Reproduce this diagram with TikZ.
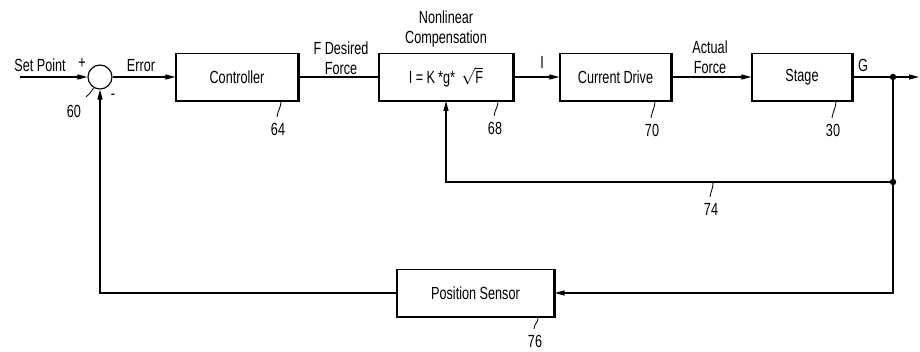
\documentclass[tikz,border=0pt]{standalone}
\usepackage{fontspec}
\setmainfont{Liberation Sans}[FakeStretch=0.72]
\usetikzlibrary{arrows.meta, positioning, calc}
\tikzset{
  fbblock/.style={rectangle, draw, line width=0.8pt,
                  minimum height=11.7mm, inner sep=2pt, align=center},
  fbheavy/.style={line width=1.8pt},
  fbline/.style={line width=0.8pt},
  fbarrow/.style={-{Triangle[length=2.5mm,width=1.25mm]}, line width=0.8pt},
  fbsum/.style={circle, draw, line width=0.8pt, minimum size=6mm, inner sep=0pt},
  fbdot/.style={circle, fill, inner sep=0pt, minimum size=1.6mm},
  fbtext/.style={align=center, inner sep=1pt},
  fbleader/.style={line width=0.6pt},
}

\begin{document}
\begin{tikzpicture}[x=0.25mm, y=-0.25mm, font=\fontsize{12.5}{14.2}\selectfont]
    \useasboundingbox (0,0) rectangle (920,352);
    % Blocos
    \node[fbsum] (sum) at (100,77) {};
    \node[fbblock, minimum width=30.5mm] (ctrl) at (237,77) {Controller};
    \node[fbblock, minimum width=33.5mm] (comp) at (446,77) {I = K\,*g* \,$\sqrt{\hbox{F}}$};
    \node[fbblock, minimum width=27.75mm] (drive) at (615.5,77) {Current Drive};
    \node[fbblock, minimum width=25mm] (stage) at (802,77) {Stage};
    \node[fbblock, minimum width=39.25mm] (sensor) at (475.5,293) {Position Sensor};
    \foreach \b in {ctrl, comp, drive, stage, sensor}
      \draw[fbheavy] (\b.north east) -- (\b.south east) -- (\b.south west);
    % Pontos de ramificacao
    \coordinate (in) at (20,77);
    \coordinate (out) at (919,77);
    \node[fbdot] (j1) at (893,77) {};
    \node[fbdot] (j2) at (893,182) {};
    % Caminho direto
    \draw[fbarrow] (in) -- (sum);
    \draw[fbarrow] (sum) -- (ctrl);
    \draw[fbline] (ctrl) -- (comp);
    \draw[fbarrow] (comp) -- (drive);
    \draw[fbarrow] (drive) -- (stage);
    \draw[fbarrow] (stage) -- (out);
    % Realimentacao
    \draw[fbarrow] (j2) -| (comp);
    \draw[fbarrow] (j1) |- (sensor);
    \draw[fbarrow] (sensor) -| (sum);
    % Rotulos dos sinais
    \node (setpt) at (40,65) {Set Point};
    \node (plus) at (82,63) {+};
    \node (minus) at (113,97) {-};
    \node (err) at (141,66) {Error};
    \node[fbtext] (fdes) at (341,58) {F Desired\\Force};
    \node[fbtext] (nlc) at (446,29) {Nonlinear\\Compensation};
    \node (icur) at (542,62) {I};
    \node[fbtext] (act) at (710,57) {Actual\\Force};
    \node (gout) at (863,65) {G};
    % Numeros de referencia
    \node (r60) at (74,111) {60};
    \node (r64) at (278,129) {64};
    \node (r68) at (495,128) {68};
    \node (r70) at (652,130) {70};
    \node (r30) at (833,130) {30};
    \node (r74) at (711,209) {74};
    \node (r76) at (535,341) {76};
    \foreach \b/\r in {ctrl/r64, comp/r68, drive/r70, stage/r30, sensor/r76}
      \draw[fbleader] ($(\b.south -| \r)+(3,0)$) .. controls +(0,7) and +(1,-7) .. ($(\r.north)+(-1,-1)$);
    \draw[fbleader] ($(j2 -| r74)+(2,0)$) .. controls +(0,7) and +(1,-7) .. ($(r74.north)+(-1,-1)$);
    \draw[fbleader] (sum.240) .. controls +(-3,4) and +(4,-3) .. ($(r60.north east)+(0,-3)$);
\end{tikzpicture}
\end{document}
